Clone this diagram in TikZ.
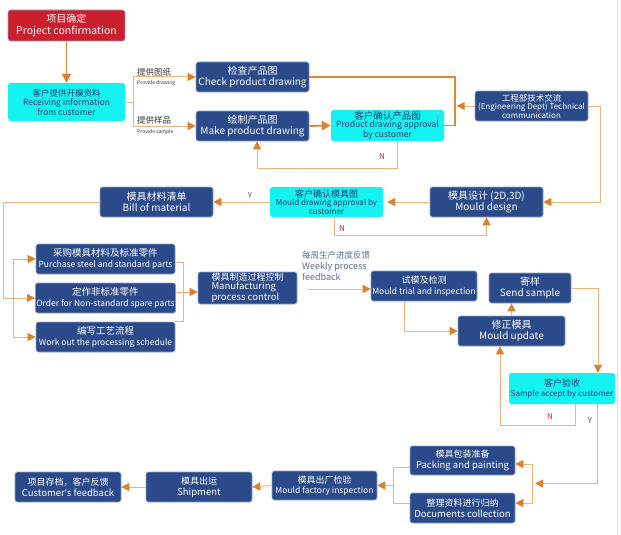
\documentclass[tikz,border=0pt]{standalone}
\usepackage{fontspec}
\setmainfont{Noto Sans CJK SC}
\newfontfamily\latinf{Noto Sans}
\usetikzlibrary{arrows.meta,calc}

\definecolor{boxblue}{HTML}{2B4A8A}
\definecolor{boxedge}{HTML}{8DA3C8}
\definecolor{cyanfill}{HTML}{14F2F2}
\definecolor{cyantext}{HTML}{1E3C78}
\definecolor{redfill}{HTML}{CC1F2D}
\definecolor{lineor}{HTML}{EDB37E}
\definecolor{lineordark}{HTML}{E0873A}
\definecolor{tipor}{HTML}{DF7F2A}
\definecolor{nred}{HTML}{B02A40}
\definecolor{ydark}{HTML}{4A5A7A}
\definecolor{ylight}{HTML}{6FA8E0}
\definecolor{wktext}{HTML}{5B7191}
\definecolor{lbltext}{HTML}{333333}

\newcommand{\fsz}[2]{\fontsize{#1}{#2}\selectfont}

\tikzset{
  bluebox/.style={rectangle, rounded corners=2.5pt, fill=boxblue, draw=boxedge, line width=0.6pt, text=white, align=center, inner sep=1pt},
  cyanbx/.style={rectangle, rounded corners=2.5pt, fill=cyanfill, draw=none, text=cyantext, align=center, inner sep=1pt},
  redbx/.style={rectangle, rounded corners=2.5pt, fill=redfill, draw=boxedge, line width=0.6pt, text=white, align=center, inner sep=1pt},
  ln/.style={draw=lineor, line width=1pt},
  arr/.style={ln, -{Triangle[length=8pt,width=8pt,color=tipor]}},
  thkln/.style={draw=lineordark, line width=1.8pt},
  thk/.style={thkln, -{Triangle[length=9pt,width=9pt,color=tipor]}},
  lbl/.style={inner sep=0pt},
}

\begin{document}
\begin{tikzpicture}[x=1pt,y=-1pt]
\useasboundingbox (0,0) rectangle (621,535);
\fill[white] (0,0) rectangle (621,535);
\draw[black!10, line width=0.8pt] (617,0) -- (617,535);

% ---------- nodes ----------
\node[redbx, minimum width=117pt, minimum height=31pt, font=\fsz{10.5}{12}] (proj) at (66.5,25.5)
  {\fsz{10}{12}项目确定\\Project confirmation};
\node[cyanbx, minimum width=117pt, minimum height=38pt, font=\fsz{8.5}{9.5}] (recv) at (66.5,102)
  {客户提供开模资料\\Receiving information\\from customer};
\node[bluebox, minimum width=113pt, minimum height=30pt, font=\fsz{10}{11}] (check) at (252.5,77)
  {\fsz{10}{11}检查产品图\\Check product drawing};
\node[bluebox, minimum width=113pt, minimum height=30pt, font=\fsz{10}{11}] (make) at (252.5,126)
  {\fsz{10}{11}绘制产品图\\Make product drawing};
\node[cyanbx, minimum width=113pt, minimum height=31pt, font=\fsz{8.5}{8.5}] (appr) at (387.5,125.5)
  {\fsz{9.5}{9}客户确认产品图\\Product drawing approval\\by customer};
\node[bluebox, minimum width=113pt, minimum height=30pt, font=\fsz{8}{8.5}] (eng) at (531.5,106)
  {\fsz{8.5}{9}工程部技术交流\\(Engineering Dept) Technical\\communication};
\node[bluebox, minimum width=113pt, minimum height=30pt, font=\fsz{10}{11}] (mdes) at (486.5,202)
  {\fsz{10}{11}模具设计 (2D,3D)\\Mould design};
\node[cyanbx, minimum width=113pt, minimum height=30pt, font=\fsz{8}{8.5}] (mappr) at (326.5,202)
  {\fsz{9}{8.5}客户确认模具图\\Mould drawing approval by\\customer};
\node[bluebox, minimum width=113pt, minimum height=30pt, font=\fsz{10}{11}] (bom) at (156.5,202)
  {\fsz{10}{11}模具材料清单\\Bill of material};
\node[bluebox, minimum width=139pt, minimum height=30pt, font=\fsz{8.5}{10.5}] (purch) at (105.5,259)
  {\fsz{9.5}{10.5}采购模具材料及标准零件\\Purchase steel and standard parts};
\node[bluebox, minimum width=139pt, minimum height=30pt, font=\fsz{8.5}{10.5}] (order) at (105.5,298)
  {\fsz{9.5}{10.5}定作非标准零件\\Order for Non-standard spare parts};
\node[bluebox, minimum width=139pt, minimum height=30pt, font=\fsz{8.5}{10.5}] (work) at (105.5,337)
  {\fsz{9.5}{10.5}编写工艺流程\\Work out the processing schedule};
\node[bluebox, minimum width=99pt, minimum height=32pt, align=left, font=\fsz{9.5}{9}] (manu) at (247.5,288)
  {\fsz{9}{10}模具制造过程控制\\Manufacturing\\process control};
\node[bluebox, minimum width=106pt, minimum height=30pt, font=\fsz{8.5}{10.5}] (trial) at (424,286)
  {\fsz{9}{10.5}试模及检测\\Mould trial and inspection};
\node[bluebox, minimum width=82pt, minimum height=30pt, font=\fsz{10}{11}] (send) at (530,288)
  {\fsz{10}{11}寄样\\Send sample};
\node[bluebox, minimum width=107pt, minimum height=30pt, font=\fsz{10}{11}] (upd) at (511.5,331)
  {\fsz{10}{11}修正模具\\Mould update};
\node[cyanbx, minimum width=106pt, minimum height=31pt, font=\fsz{8}{10}] (acc) at (562,388.5)
  {\fsz{9}{10}客户验收\\Sample accept by customer};
\node[bluebox, minimum width=105pt, minimum height=29pt, font=\fsz{9.5}{11}] (pack) at (462.5,460.5)
  {\fsz{9}{11}模具包装准备\\Packing and painting};
\node[bluebox, minimum width=105pt, minimum height=30pt, font=\fsz{9.5}{11}] (docs) at (462.5,508)
  {\fsz{9}{11}整理资料进行归纳\\Documents collection};
\node[bluebox, minimum width=105pt, minimum height=29pt, font=\fsz{8.5}{10.5}] (insp) at (324.5,485.5)
  {\fsz{9}{10.5}模具出厂检验\\Mould factory inspection};
\node[bluebox, minimum width=106pt, minimum height=30pt, font=\fsz{9.5}{11}] (ship) at (199,487)
  {\fsz{9}{11}模具出运\\Shipment};
\node[bluebox, minimum width=106pt, minimum height=30pt, font=\fsz{9.5}{11}] (fb) at (68,487)
  {\fsz{9}{11}项目存档，客户反馈\\Customer{\latinf '}s feedback};

% ---------- labels ----------
\node[lbl, anchor=west, text=lbltext] (l1) at (137,72) {\fsz{8.5}{9}提供图纸};
\node[lbl, anchor=west, text=lbltext] (l1e) at (137,83) {\fsz{5}{6}Provide drawing};
\node[lbl, anchor=west, text=lbltext] (l2) at (137,120) {\fsz{8.5}{9}提供样品};
\node[lbl, anchor=west, text=lbltext] (l2e) at (137,132) {\fsz{5}{6}Provide sample};
\node[lbl, anchor=north west, align=left, text=wktext, font=\fsz{9}{11}] (wk) at (302,251)
  {\fsz{8.5}{11}每周生产进度反馈\\Weekly process\\feedback};
\node[lbl, text=ylight] (y0) at (438,118) {\fsz{8}{9}Y};
\node[lbl, text=nred] (n1) at (382,157) {\fsz{8}{9}N};
\node[lbl, text=ydark] (y1) at (250,196) {\fsz{8}{9}Y};
\node[lbl, text=nred] (n2) at (342,229) {\fsz{8}{9}N};
\node[lbl, text=nred] (n3) at (550,417) {\fsz{8}{9}N};
\node[lbl, text=ydark] (y2) at (590,421) {\fsz{8}{9}Y};

% ---------- connectors ----------
\draw[thk] (proj.south) -- (recv.north);

\coordinate (rb) at ([xshift=8pt]recv.east);
\draw[ln] (recv.east) -- (rb);
\draw[ln] (rb |- check.west) -- (rb |- make.west);
\draw[arr] (rb |- check.west) -- (check.west);
\draw[arr] (rb |- make.west) -- (make.west);

\draw[thkln] (check.east) -| ([xshift=11pt]appr.east) -- (appr.east);
\draw[thk] (make.east) -- (appr.west);
\draw[arr] (eng.west) -- ++(-18,0);
\draw[arr] ([xshift=9.5pt]appr.south) -- ++(0,27) -| ([xshift=4.5pt]make.south);

\draw[arr] (eng.east) -- ++(12,0) |- (mdes.east);
\draw[arr, shorten >=4pt] (mdes.west) -- (mappr.east);
\draw[arr] ([xshift=7.5pt]mappr.south) -- ++(0,18) -| (mdes.south);
\draw[arr] (mappr.west) -- (bom.east);

\draw[arr] (bom.west) -- ++(-96,0) |- (order.west);
\draw[arr] ([xshift=-22pt]order.west) |- (purch.west);
\draw[arr] ([xshift=-22pt]order.west) |- (work.west);
\draw[ln] ([yshift=-3pt]purch.east) -- ++(8,0) |- (work.north east);
\draw[arr] ([yshift=6pt]order.east) -- ([yshift=-4pt]manu.west);

\coordinate (wkstart) at (308,289);
\draw[arr] (wkstart) -- ([yshift=-3pt]trial.west);
\draw[arr] ([xshift=-20pt]trial.south) |- (upd.west);
\draw[arr] (upd.north) -- (upd.north |- send.south);
\draw[arr] (send.east) -| ([xshift=36pt]acc.north);
\draw[arr] ([xshift=13pt]acc.south) -- ++(0,21) -| ([xshift=-11.5pt]upd.south);

\coordinate (ybr) at (532,483.5);
\draw[arr] ([xshift=35pt]acc.south) |- ([xshift=3pt]ybr);
\draw[arr] (ybr) |- ([yshift=-3.5pt]pack.east);
\draw[arr] (ybr) |- ([yshift=5pt]docs.east);
\draw[ln] ([yshift=-6.5pt]pack.west) -- ++(-16,0) |- ([yshift=5pt]docs.west);
\draw[arr] ([xshift=17pt]insp.east) -- (insp.east);
\draw[arr] (insp.west) -- (ship.east);
\draw[arr] (ship.west) -- (fb.east);
\end{tikzpicture}
\end{document}
